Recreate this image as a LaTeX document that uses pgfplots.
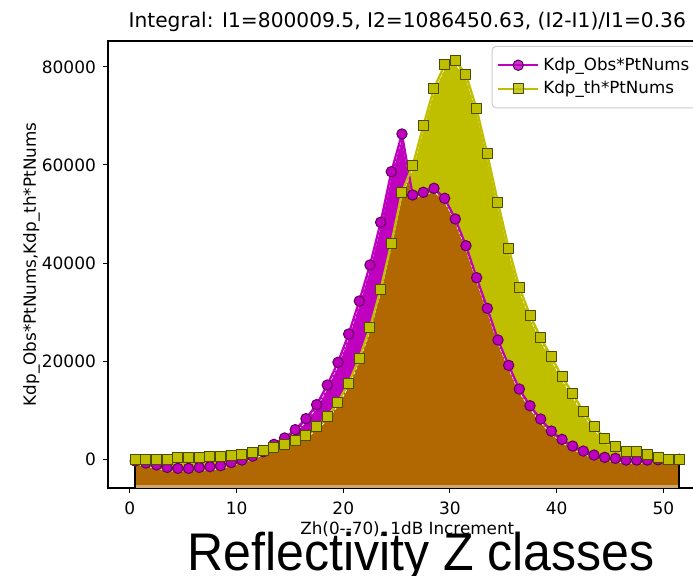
\documentclass[border=0pt]{standalone}
\usepackage{fontspec}
\setmainfont{DejaVu Sans}
\newfontfamily\bigfont{Liberation Sans}
\usepackage{graphicx}
\usepackage{pgfplots}
\pgfplotsset{compat=1.18}
\usepgfplotslibrary{fillbetween}
\usepackage{pgfplotstable}
\definecolor{mcol}{RGB}{191,0,191}
\definecolor{ycol}{RGB}{191,191,0}
\definecolor{bcol}{RGB}{178,104,2}
\definecolor{tancol}{RGB}{205,165,110}
\definecolor{legedge}{RGB}{204,204,204}

\pgfplotstableread{
x obs th
0.5 -400 0
1.5 -800 0
2.5 -1200 0
3.5 -1700 0
4.5 -1900 265
5.5 -1900 265
6.5 -1700 265
7.5 -1550 476
8.5 -1350 476
9.5 -700 680
10.5 -200 950
11.5 600 1290
12.5 1490 1837
13.5 3000 2350
14.5 4300 3000
15.5 6000 3800
16.5 8250 4900
17.5 11100 6600
18.5 15100 8630
19.5 19735 11600
20.5 25510 15500
21.5 32245 20551
22.5 39592 26796
23.5 48306 34694
24.5 58633 44020
25.5 66327 54429
26.5 53878 59857
27.5 54429 68020
28.5 55245 75653
29.5 53204 80408
30.5 48980 81286
31.5 43531 78510
32.5 37000 71429
33.5 30755 62245
34.5 24286 52388
35.5 19122 43000
36.5 14286 35041
37.5 10878 29388
38.5 8163 24755
39.5 5714 20878
40.5 4020 16796
41.5 2653 13408
42.5 1633 9653
43.5 816 6735
44.5 347 4224
45.5 143 2510
46.5 -204 1633
47.5 -204 1490
48.5 -204 1020
49.5 -150 347
50.5 -100 10
51.5 -50 0
}\data

\begin{document}
\begin{tikzpicture}
\begin{axis}[
  set layers,
  at={(54pt,44pt)}, anchor=south west,
  scale only axis, width=299.3pt, height=223.5pt,
  xmin=-2.05, xmax=54.05, ymin=-5900, ymax=85300,
  xtick={0,10,...,50}, ytick={0,20000,...,80000},
  scaled y ticks=false,
  yticklabel style={/pgf/number format/.cd, fixed, 1000 sep={}},
  xticklabel style={yshift=-1pt},
  /pgf/number format/assume math mode=true,
  tick pos=left, tick align=outside, major tick length=2.5pt,
  tick style={black, line width=0.5pt},
  axis line style={line width=0.6pt},
  tick label style={font=\fontsize{8.5}{10}\selectfont},
  title={Integral: I1=800009.5, I2=1086450.63, (I2-I1)/I1=0.36},
  every axis title/.style={at={(axis description cs:0.5,1)}, anchor=base, yshift=6.75pt, font=\fontsize{10.1}{12}\selectfont},
  xlabel={Zh(0-{}-70), 1dB Increment},
  xlabel style={at={(axis description cs:0.5,-0.105)}, anchor=base, font=\fontsize{8.4}{10}\selectfont},
  ylabel={Kdp\_Obs*PtNums,Kdp\_th*PtNums},
  ylabel style={at={(axis description cs:-0.1203,0.5)}, anchor=base, font=\fontsize{8.4}{10}\selectfont},
  legend style={at={(axis description cs:0.987,0.989)}, anchor=north east,
    draw=legedge, line width=0.5pt, rounded corners=2pt, fill=white, fill opacity=0.8, text opacity=1,
    font=\fontsize{8.35}{10}\selectfont, inner xsep=2.5pt, inner ysep=3.5pt, row sep=0pt},
  legend cell align=left,
  legend image code/.code={\draw[mark repeat=2,mark phase=2,#1] plot coordinates {(0pt,0pt) (10pt,0pt) (20pt,0pt)};},
]
\addplot[draw=none, name path=basep, forget plot] coordinates {(0.5,-5900) (51.5,-5900)};
\addplot[tancol, line width=1.2pt, forget plot] coordinates {(0.5,-5600) (51.5,-5600)};
\addplot[black, line width=1pt, forget plot] coordinates {(0.5,-5900) (0.5,0)};
\addplot[black, line width=1pt, forget plot] coordinates {(51.5,-5900) (51.5,0)};
\addplot[white, line width=0.45pt, dash pattern=on 1.5pt off 1pt, yshift=-1.6pt, forget plot] table[x=x,y=th]{\data};
\addplot[white, line width=0.45pt, dash pattern=on 1.5pt off 1pt, yshift=-1.6pt, forget plot] table[x=x,y=obs]{\data};
\addplot[mcol, line width=1.1pt, line join=round, mark=*, mark size=2.6pt,
  mark options={fill=mcol, draw=mcol!50!black, line width=0.5pt}, name path=obsp] table[x=x,y=obs]{\data};
\addlegendentry{Kdp\_Obs*PtNums}
\addplot[ycol, line width=1.1pt, line join=round, mark=square*, mark size=2.5pt,
  mark options={fill=ycol, draw=ycol!40!black, line width=0.5pt}, name path=thp] table[x=x,y=th]{\data};
\addlegendentry{Kdp\_th*PtNums}
\addplot[fill=bcol, draw=none, forget plot] fill between[of=obsp and basep];
\addplot[fill=ycol, draw=none, forget plot] fill between[of=obsp and thp, split, every segment no 1/.style={fill=mcol}];
\end{axis}
\node[anchor=base, font=\bigfont\fontsize{26.5}{30}\selectfont] at (210.5pt,2.5pt) {\scalebox{0.945}[1]{Reflectivity Z classes}};
\pgfresetboundingbox
\path[use as bounding box] (0,0) rectangle (346.5pt,288pt);
\end{tikzpicture}
\end{document}
